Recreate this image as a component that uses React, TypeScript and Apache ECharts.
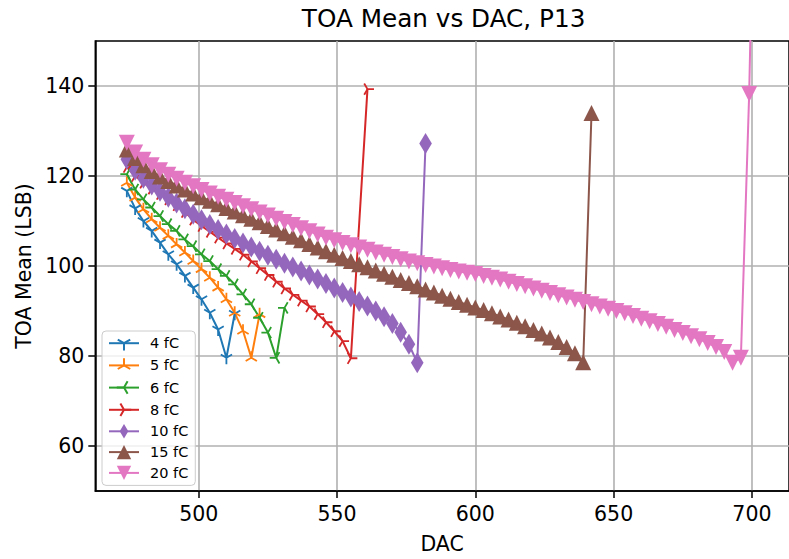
import { useEffect, useRef } from 'react';
import * as echarts from 'echarts';

// DAC scan points (x values shared by all charge settings)
const DAC = [
  474, 477, 480, 483, 486, 489, 492, 495, 498, 501,
  504, 507, 510, 513, 516, 519, 522, 525, 528, 531,
  534, 537, 540, 543, 546, 549, 552, 555, 558, 561,
  564, 567, 570, 573, 576, 579, 582, 585, 588, 591,
  594, 597, 600, 603, 606, 609, 612, 615, 618, 621,
  624, 627, 630, 633, 636, 639, 642, 645, 648, 651,
  654, 657, 660, 663, 666, 669, 672, 675, 678, 681,
  684, 687, 690, 693, 696,
];

const SERIES_NAMES = ['4 fC', '5 fC', '6 fC', '8 fC', '10 fC', '15 fC', '20 fC'];

const TOA_4FC = [116.7, 112.8, 110.0, 107.8, 105.2, 102.6, 100.4, 97.8, 95.2, 92.6, 89.6, 85.9, 79.6];
const END_4FC = [[513, 89.4]];

const TOA_5FC = [118.5, 115.2, 112.6, 110.4, 108.5, 106.7, 104.8, 103.0, 101.1, 99.3, 97.4, 95.2, 92.6, 89.6, 85.6, 79.6];
const END_5FC = [[522, 89.3]];

const TOA_6FC = [120.4, 117.0, 114.8, 113.0, 111.1, 109.3, 107.8, 105.9, 104.4, 102.6, 101.1, 99.3, 97.8, 95.9, 93.7, 91.5, 88.5, 85.2, 79.6];
const END_6FC = [[531, 90.7]];

const TOA_8FC = [
  122.0, 120.0, 118.5, 117.2, 116.0, 114.8, 113.5, 112.0, 110.3, 108.9,
  107.6, 106.3, 105.0, 103.8, 102.5, 101.0, 99.5, 98.0, 96.5, 95.0,
  93.6, 92.3, 91.0, 89.3, 87.5, 85.5, 83.3, 79.5,
];
const END_8FC = [[561, 139.3]];

const TOA_10FC = [
  123.7, 121.3, 119.5, 118.0, 116.6, 115.3, 114.0, 112.7, 111.5, 110.3,
  109.2, 108.1, 107.1, 106.1, 105.1, 104.2, 103.3, 102.4, 101.5, 100.6,
  99.8, 98.9, 98.0, 97.1, 96.1, 95.1, 94.1, 93.1, 92.1, 91.1,
  90.0, 88.7, 87.2, 85.3, 82.6, 78.5,
];
const END_10FC = [[582, 127.2]];

const TOA_15FC = [
  125.9, 124.0, 122.4, 121.1, 119.9, 118.9, 117.9, 117.0, 116.1, 115.3,
  114.5, 113.7, 112.9, 112.1, 111.3, 110.5, 109.7, 108.9, 108.1, 107.3,
  106.5, 105.7, 104.9, 104.1, 103.3, 102.5, 101.8, 101.1, 100.4, 99.7,
  99.0, 98.3, 97.6, 96.9, 96.2, 95.5, 94.8, 94.1, 93.4, 92.7,
  92.0, 91.4, 90.8, 90.2, 89.5, 88.8, 88.1, 87.4, 86.6, 85.8,
  85.0, 84.1, 83.1, 82.0, 80.6, 78.6,
];
const END_15FC = [[642, 134.0]];

const TOA_20FC = [
  127.4, 125.2, 123.6, 122.4, 121.3, 120.3, 119.4, 118.5, 117.7, 116.9,
  116.1, 115.4, 114.7, 114.0, 113.3, 112.6, 111.9, 111.2, 110.5, 109.8,
  109.1, 108.4, 107.7, 107.0, 106.3, 105.7, 105.1, 104.6, 104.1, 103.6,
  103.0, 102.5, 102.0, 101.5, 101.0, 100.6, 100.2, 99.9, 99.5, 99.1,
  98.8, 98.5, 98.2, 97.8, 97.4, 97.0, 96.5, 96.0, 95.5, 95.0,
  94.5, 94.0, 93.5, 93.0, 92.5, 92.0, 91.5, 91.0, 90.5, 90.0,
  89.5, 88.9, 88.3, 87.7, 87.1, 86.5, 85.8, 85.1, 84.4, 83.7,
  82.9, 82.0, 80.9, 78.5, 79.6,
];
const END_20FC = [[699, 138.2], [702, 225]];

const X_TICKS = [500, 550, 600, 650, 700];
const Y_TICKS = [60, 80, 100, 120, 140];

const FONT = 'DejaVu Sans';
const COLORS = ['#1f77b4', '#ff7f0e', '#2ca02c', '#d62728', '#9467bd', '#8c564b', '#e377c2'];

// square bounding box anchors so path symbols keep their own aspect ratio
const BOX = 'M0 0 M100 100 ';
const SYM_TRI_DOWN = 'path://' + BOX + 'M50 50 L50 100 M50 50 L6.7 25 M50 50 L93.3 25';
const SYM_TRI_UP = 'path://' + BOX + 'M50 50 L50 0 M50 50 L6.7 75 M50 50 L93.3 75';
const SYM_TRI_LEFT = 'path://' + BOX + 'M50 50 L0 50 M50 50 L75 6.7 M50 50 L75 93.3';
const SYM_TRI_RIGHT = 'path://' + BOX + 'M50 50 L100 50 M50 50 L25 6.7 M50 50 L25 93.3';
const SYM_THIN_DIAMOND = 'path://' + BOX + 'M50 0 L80 50 L50 100 L20 50 Z';
const SYM_TRIANGLE_UP = 'path://M50 0 L100 100 L0 100 Z';
const SYM_TRIANGLE_DOWN = 'path://M0 0 L100 0 L50 100 Z';

const SERIES_VALUES = [TOA_4FC, TOA_5FC, TOA_6FC, TOA_8FC, TOA_10FC, TOA_15FC, TOA_20FC];
const SERIES_ENDS = [END_4FC, END_5FC, END_6FC, END_8FC, END_10FC, END_15FC, END_20FC];
const SERIES_SYMBOLS = [SYM_TRI_DOWN, SYM_TRI_UP, SYM_TRI_LEFT, SYM_TRI_RIGHT, SYM_THIN_DIAMOND, SYM_TRIANGLE_UP, SYM_TRIANGLE_DOWN];
const SERIES_SIZES = [13, 13, 13, 13, 21, 16, 16];
const SERIES_STROKED = [true, true, true, true, false, false, false];

function buildOption() {
  const series = SERIES_NAMES.map((name, i) => {
    const pts: number[][] = SERIES_VALUES[i].map((y, k) => [DAC[k], y]);
    const data = pts.concat(SERIES_ENDS[i]);
    const c = COLORS[i];
    return {
      type: 'line',
      name,
      data,
      symbol: SERIES_SYMBOLS[i],
      symbolSize: SERIES_SIZES[i],
      showAllSymbol: true,
      clip: true,
      silent: true,
      lineStyle: { color: c, width: 2 },
      itemStyle: {
        color: c,
        borderColor: c,
        borderWidth: SERIES_STROKED[i] ? 1.8 : 0,
      },
      emphasis: { disabled: true },
    };
  });

  return {
    animation: false,
    backgroundColor: '#ffffff',
    title: {
      text: 'TOA Mean vs DAC, P13',
      left: 443.6,
      top: 6,
      textAlign: 'center',
      padding: 0,
      textStyle: { fontFamily: FONT, fontSize: 24.7, fontWeight: 'normal', color: '#000' },
    },
    grid: {
      left: 95.3,
      top: 41,
      width: 696.7,
      height: 451,
      show: true,
      borderColor: '#000',
      borderWidth: 1.5,
      backgroundColor: 'transparent',
    },
    legend: {
      data: SERIES_NAMES,
      orient: 'vertical',
      left: 102,
      top: 331,
      itemWidth: 30,
      itemHeight: 18,
      itemGap: 5.8,
      padding: [4, 7, 5, 6],
      borderColor: '#cccccc',
      borderWidth: 1,
      borderRadius: 4,
      backgroundColor: 'rgba(255,255,255,0.8)',
      selectedMode: false,
      textStyle: { fontFamily: FONT, fontSize: 14.5, color: '#000', padding: [0, 0, 0, 6] },
    },
    xAxis: {
      type: 'value',
      min: 462.6,
      max: 713.4,
      name: 'DAC',
      nameLocation: 'middle',
      nameGap: 42,
      nameTextStyle: { fontFamily: FONT, fontSize: 20.5, color: '#000' },
      axisLine: { show: true, onZero: false, lineStyle: { color: '#000', width: 1.5 } },
      axisTick: { show: true, inside: false, length: 7, customValues: X_TICKS, lineStyle: { color: '#000', width: 1.5 } },
      axisLabel: { customValues: X_TICKS, margin: 12, fontFamily: FONT, fontSize: 20.5, color: '#000' },
      splitLine: { show: true, lineStyle: { color: '#b0b0b0', width: 1.6 } },
    },
    yAxis: {
      type: 'value',
      min: 50,
      max: 150,
      name: 'TOA Mean (LSB)',
      nameLocation: 'middle',
      nameGap: 60,
      nameTextStyle: { fontFamily: FONT, fontSize: 20.5, color: '#000' },
      axisLine: { show: true, onZero: false, lineStyle: { color: '#000', width: 1.5 } },
      axisTick: { show: true, inside: false, length: 7, customValues: Y_TICKS, lineStyle: { color: '#000', width: 1.5 } },
      axisLabel: { customValues: Y_TICKS, margin: 11, fontFamily: FONT, fontSize: 20.5, color: '#000' },
      splitLine: { show: true, lineStyle: { color: '#b0b0b0', width: 1.6 } },
    },
    series,
  };
}

export default function App() {
  const ref = useRef<HTMLDivElement>(null);
  useEffect(() => {
    document.body.style.margin = '0';
    const el = ref.current;
    if (!el) return;
    const chart = echarts.init(el, null, { renderer: 'svg', width: 789, height: 559 });
    chart.setOption(buildOption() as any);
    return () => {
      chart.dispose();
    };
  }, []);
  return (
    <div
      ref={ref}
      style={{ position: 'absolute', left: 0, top: 0, width: 789, height: 559, overflow: 'hidden', background: '#fff' }}
    />
  );
}
